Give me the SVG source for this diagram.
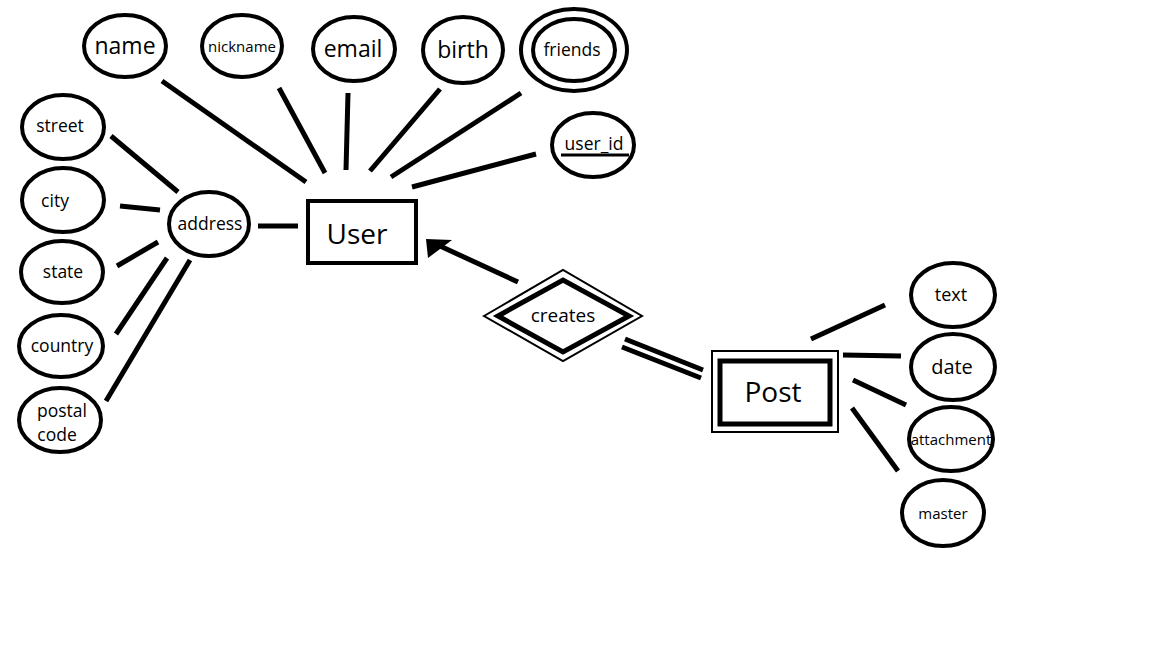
<svg xmlns="http://www.w3.org/2000/svg" width="1152" height="648" viewBox="0 0 1152 648">
<style>
.e{fill:#fff;stroke:#000;stroke-width:4}
.c{stroke:#000;stroke-width:5;fill:none;stroke-linecap:butt}
.t{font-family:"Open Sans","Liberation Sans",sans-serif;fill:#000;text-anchor:middle;dominant-baseline:central}
.big{font-size:23px}
.mid{font-size:17.5px}
.sm{font-size:15px}
</style>
<rect width="1152" height="648" fill="#fff"/>
<g id="connectors">
<line class="c" x1="162" y1="81" x2="306" y2="182"/>
<line class="c" x1="279" y1="88" x2="325" y2="173"/>
<line class="c" x1="348" y1="93" x2="346" y2="170"/>
<line class="c" x1="440" y1="89" x2="370" y2="171"/>
<line class="c" x1="521" y1="93" x2="391" y2="177"/>
<line class="c" x1="536" y1="154" x2="412" y2="187"/>
<line class="c" x1="111" y1="136" x2="178" y2="192"/>
<line class="c" x1="120" y1="206" x2="160" y2="210"/>
<line class="c" x1="117" y1="266" x2="158" y2="242"/>
<line class="c" x1="116" y1="334" x2="167" y2="258"/>
<line class="c" x1="106" y1="401" x2="190" y2="260"/>
<line class="c" x1="258" y1="226" x2="298" y2="226"/>
<line class="c" x1="518" y1="282" x2="440" y2="246"/>
<polygon points="426,239 452,240 428,258" fill="#000"/>
<line class="c" x1="625" y1="339" x2="703" y2="370"/>
<line class="c" x1="622" y1="347" x2="701" y2="378"/>
<line class="c" x1="811" y1="339" x2="885" y2="305"/>
<line class="c" x1="843" y1="355" x2="901" y2="356"/>
<line class="c" x1="853" y1="380" x2="906" y2="405"/>
<line class="c" x1="852" y1="408" x2="898" y2="471"/>
</g>
<g id="name"><ellipse class="e" cx="125" cy="46" rx="41" ry="31"/><text class="t big" x="125" y="45">name</text></g>
<g id="nickname"><ellipse class="e" cx="242" cy="46" rx="40" ry="31"/><text class="t sm" x="242" y="46">nickname</text></g>
<g id="email"><ellipse class="e" cx="354" cy="49" rx="41" ry="32"/><text class="t big" x="353" y="48">email</text></g>
<g id="birth"><ellipse class="e" cx="463" cy="50" rx="40" ry="33"/><text class="t big" x="463" y="49">birth</text></g>
<g id="friends"><ellipse class="e" cx="574" cy="50" rx="53" ry="41"/><ellipse class="e" cx="574" cy="50" rx="41" ry="31"/><text class="t mid" x="572" y="49">friends</text></g>
<g id="user_id"><ellipse class="e" cx="593" cy="145" rx="41" ry="32"/><text class="t mid" x="594" y="143">user_id</text><line x1="561" y1="155" x2="629" y2="155" stroke="#000" stroke-width="3"/></g>
<g id="street"><ellipse class="e" cx="63" cy="127" rx="41" ry="32"/><text class="t mid" x="60" y="125">street</text></g>
<g id="city"><ellipse class="e" cx="63" cy="200" rx="41" ry="32"/><text class="t mid" x="55" y="200">city</text></g>
<g id="state"><ellipse class="e" cx="62" cy="272" rx="41" ry="31"/><text class="t mid" x="63" y="271">state</text></g>
<g id="country"><ellipse class="e" cx="61" cy="346" rx="42" ry="31"/><text class="t mid" x="62" y="345">country</text></g>
<g id="postal_code"><ellipse class="e" cx="60" cy="420" rx="41" ry="32"/><text class="t mid" x="62" y="410">postal</text><text class="t mid" x="57" y="434">code</text></g>
<g id="address"><ellipse class="e" cx="209" cy="224" rx="40" ry="32"/><text class="t mid" x="210" y="223">address</text></g>
<g id="User"><rect x="308" y="201" width="108" height="62" fill="#fff" stroke="#000" stroke-width="4"/><text class="t" x="357" y="233" font-size="28">User</text></g>
<g id="creates"><polygon points="484,316 563,270 642,316 563,361" fill="#fff" stroke="#000" stroke-width="2"/><polygon points="498,316 563,280 629,316 563,352" fill="#fff" stroke="#000" stroke-width="5"/><text class="t" x="563" y="315" font-size="19">creates</text></g>
<g id="Post"><rect x="712" y="351" width="126" height="81" fill="#fff" stroke="#000" stroke-width="2"/><rect x="720" y="361" width="110" height="63" fill="#fff" stroke="#000" stroke-width="5"/><text class="t" x="773" y="391" font-size="28">Post</text></g>
<g id="text"><ellipse class="e" cx="953" cy="295" rx="42" ry="32"/><text class="t" x="951" y="294" font-size="18">text</text></g>
<g id="date"><ellipse class="e" cx="953" cy="367" rx="42" ry="33"/><text class="t" x="952" y="366" font-size="20">date</text></g>
<g id="attachment"><ellipse class="e" cx="951" cy="439" rx="42" ry="32"/><text class="t sm" x="951" y="439">attachment</text></g>
<g id="master"><ellipse class="e" cx="943" cy="513" rx="41" ry="33"/><text class="t sm" x="943" y="513">master</text></g>
</svg>
